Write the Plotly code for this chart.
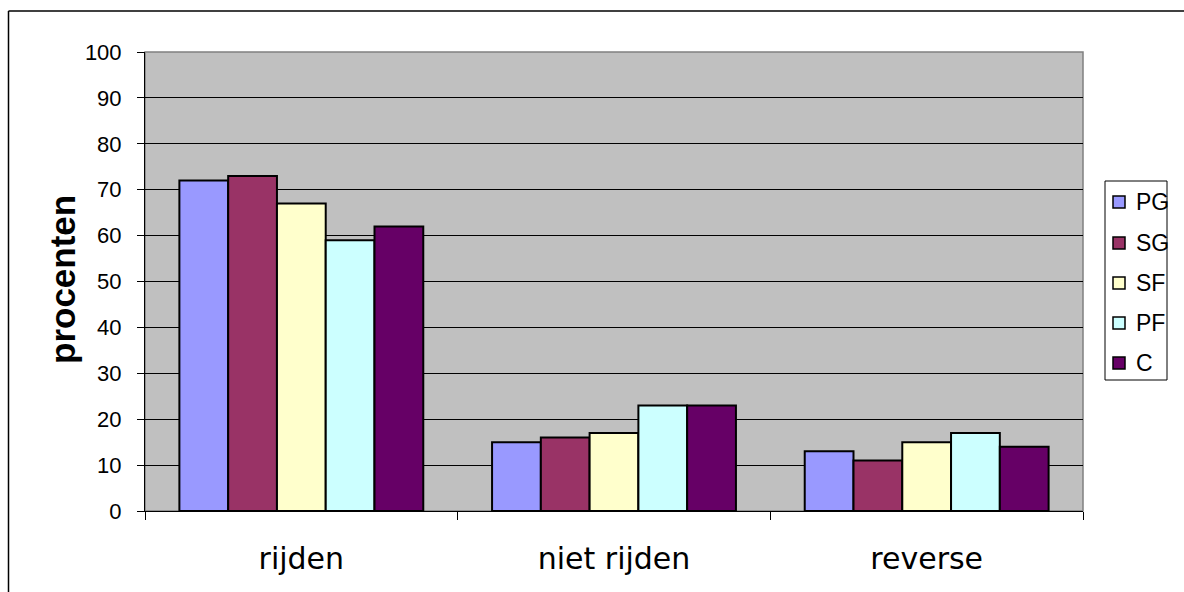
import plotly.graph_objects as go

categories = ["rijden", "niet rijden", "reverse"]
series_names = ["PG", "SG", "SF", "PF", "C"]
pg = [72, 15, 13]
sg = [73, 16, 11]
sf = [67, 17, 15]
pf = [59, 23, 17]
c = [62, 23, 14]
series_values = [pg, sg, sf, pf, c]
colors = ["#9999FF", "#993366", "#FFFFCC", "#CCFFFF", "#660066"]
y_ticks = list(range(0, 101, 10))

fig = go.Figure()
for i, (name, vals, col) in enumerate(zip(series_names, series_values, colors)):
    fig.add_trace(go.Bar(
        x=categories, y=vals, name=name, showlegend=False,
        marker=dict(color=col, line=dict(color="black", width=2)),
    ))

W, H = 1184, 592
L, R, T, B = 145, 1083, 52, 511


def px(x):
    return (x - L) / (R - L)


def py(y):
    return (B - y) / (B - T)


shapes = [
    dict(type="rect", xref="paper", yref="paper", x0=0, x1=1, y0=0, y1=1,
         line=dict(color="#808080", width=1.5), layer="below"),
    dict(type="line", xref="paper", yref="paper",
         x0=px(8.5), x1=px(8.5), y0=py(11), y1=py(700),
         line=dict(color="black", width=1.5)),
    dict(type="line", xref="paper", yref="paper",
         x0=px(8.5), x1=px(1300), y0=py(11), y1=py(11),
         line=dict(color="black", width=1.5)),
    # legend box
    dict(type="rect", xref="paper", yref="paper",
         x0=px(1105), x1=px(1167), y0=py(181), y1=py(380),
         line=dict(color="black", width=1), fillcolor="white"),
]
annotations = [
    dict(text="<b>procenten</b>", xref="paper", yref="paper",
         x=px(62), y=py(280),
         textangle=-90, showarrow=False,
         font=dict(size=35, family="Liberation Sans, Arial"),
         xanchor="center", yanchor="middle"),
]
legend_y = [202, 243, 283, 323, 363]
for name, col, yc in zip(series_names, colors, legend_y):
    shapes.append(dict(type="rect", xref="paper", yref="paper",
                       x0=px(1113), x1=px(1125), y0=py(yc - 6), y1=py(yc + 6),
                       line=dict(color="black", width=1.5), fillcolor=col))
    annotations.append(dict(text=name, xref="paper", yref="paper",
                            x=px(1134), y=py(yc), xanchor="left", yanchor="middle",
                            showarrow=False,
                            font=dict(size=23, family="Liberation Sans, Arial")))

fig.update_layout(
    width=W, height=H,
    margin=dict(l=L, r=W - R, t=T, b=H - B),
    paper_bgcolor="white",
    plot_bgcolor="#C0C0C0",
    barmode="group",
    bargap=0.22,
    bargroupgap=0,
    font=dict(family="Liberation Sans, Arial", color="black"),
    xaxis=dict(
        type="category",
        tickson="boundaries",
        ticks="outside", ticklen=8, tickcolor="black",
        showline=True, linecolor="black", linewidth=1,
        tickfont=dict(size=30, family="DejaVu Sans"),
        ticklabelstandoff=21,
        showgrid=False,
    ),
    yaxis=dict(
        range=[0, 100],
        tickvals=y_ticks,
        ticks="outside", ticklen=7, tickcolor="black",
        showline=True, linecolor="black", linewidth=1,
        showgrid=True, gridcolor="black", gridwidth=1,
        tickfont=dict(size=22, family="Liberation Sans, Arial"),
        ticklabelstandoff=11,
        zeroline=False,
    ),
    shapes=shapes,
    annotations=annotations,
)

fig.write_html("out.html")
